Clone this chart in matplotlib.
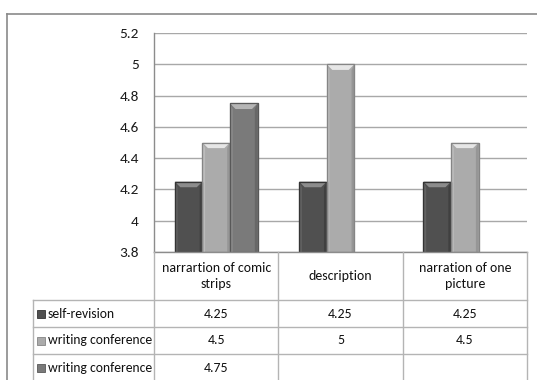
import numpy as np
import matplotlib
matplotlib.use("Agg")
import matplotlib.pyplot as plt
from matplotlib.patches import Polygon, Rectangle
from matplotlib.lines import Line2D
from matplotlib import font_manager

installed = {f.name for f in font_manager.fontManager.ttflist}
preferred = ['Carlito', 'Liberation Sans Narrow', 'Roboto Condensed', 'DejaVu Sans']
plt.rcParams['font.family'] = [f for f in preferred if f in installed] or ['DejaVu Sans']

categories = ["narrartion of comic\nstrips", "description", "narration of one\npicture"]
series_names = ["self-revision", "writing conference", "writing conference"]
self_revision = [4.25, 4.25, 4.25]
writing_conference_1 = [4.5, 5, 4.5]
writing_conference_2 = [4.75, np.nan, np.nan]
y_ticks = [3.8, 4, 4.2, 4.4, 4.6, 4.8, 5, 5.2]

series = [self_revision, writing_conference_1, writing_conference_2]
colors = ["#505050", "#ababab", "#7a7a7a"]
light = ["#8c8c8c", "#e6e6e6", "#b5b5b5"]
dark = ["#343434", "#858585", "#585858"]

W, H = 537, 380
fig = plt.figure(figsize=(W / 100, H / 100), dpi=100)

def fx(px):
    return px / W

def fy(py):
    return 1 - py / H

ax_l, ax_r, ax_t, ax_b = 154, 527, 33, 252
ax = fig.add_axes([fx(ax_l), fy(ax_b), fx(ax_r - ax_l), (ax_b - ax_t) / H])

n_cat = len(categories)
ax.set_xlim(0, n_cat)
ax.set_ylim(y_ticks[0], y_ticks[-1])
ax.set_yticks(y_ticks)
ax.set_yticklabels([f"{t:g}" for t in y_ticks], fontsize=11, color="#1a1a1a")
ax.tick_params(axis="y", length=0, pad=11)
ax.set_xticks([])
for s in ["top", "right", "bottom"]:
    ax.spines[s].set_visible(False)
ax.spines["left"].set_color("#8c8c8c")
ax.spines["left"].set_linewidth(1.0)
ax.grid(axis="y", color="#a8a8a8", linewidth=1.0)
ax.set_axisbelow(True)

bar_w = 0.222
bev_y = 0.036
bev_x = 0.045
side_x = 0.022
for j, vals in enumerate(series):
    for i, v in enumerate(vals):
        if np.isnan(v):
            continue
        x0 = i + 0.5 + (j - 1) * bar_w - bar_w / 2
        x1 = x0 + bar_w
        base = y_ticks[0]
        ax.add_patch(Rectangle((x0, base), bar_w, v - base, facecolor=colors[j],
                               edgecolor=dark[j], linewidth=0.8, zorder=3))
        # side facets
        ax.add_patch(Polygon([(x0, base), (x0 + side_x, base), (x0 + side_x, v - bev_y), (x0, v)],
                             closed=True, facecolor=light[j], alpha=0.3, linewidth=0, zorder=4))
        ax.add_patch(Polygon([(x1, base), (x1 - side_x, base), (x1 - side_x, v - bev_y), (x1, v)],
                             closed=True, facecolor=dark[j], alpha=0.55, linewidth=0, zorder=4))
        # top bevel
        ax.add_patch(Polygon([(x0, v), (x1, v), (x1 - bev_x, v - bev_y), (x0 + bev_x, v - bev_y)],
                             closed=True, facecolor=light[j], linewidth=0, zorder=4))
        ax.add_patch(Rectangle((x0, base), bar_w, v - base, facecolor="none",
                               edgecolor=dark[j], linewidth=0.9, zorder=5))

# bottom axis line
fig.add_artist(Line2D([fx(ax_l), fx(ax_r)], [fy(ax_b), fy(ax_b)], color="#8c8c8c", lw=1.0))

# outer frame
fig.add_artist(Line2D([fx(7.5), fx(7.5)], [fy(14), fy(H + 5)], color="#8a8a8a", lw=1.2))
fig.add_artist(Line2D([fx(7.5), fx(W + 5)], [fy(14), fy(14)], color="#8a8a8a", lw=1.2))

# data table
grid_c = "#b4b4b4"
col_edges = np.linspace(ax_l, ax_r, n_cat + 1)
row_edges = [300, 327, 354, 381]
leg_l = 33
for xe in col_edges:
    fig.add_artist(Line2D([fx(xe), fx(xe)], [fy(ax_b), fy(H)], color=grid_c, lw=1.0))
fig.add_artist(Line2D([fx(leg_l), fx(leg_l)], [fy(row_edges[0]), fy(H)], color=grid_c, lw=1.0))
for ye in row_edges[:-1]:
    fig.add_artist(Line2D([fx(leg_l), fx(ax_r)], [fy(ye), fy(ye)], color=grid_c, lw=1.0))

txt_c = "#111111"
for i, cat in enumerate(categories):
    cx = (col_edges[i] + col_edges[i + 1]) / 2
    fig.text(fx(cx), fy((ax_b + row_edges[0]) / 2), cat, ha="center", va="center",
             fontsize=10, color=txt_c, linespacing=1.35)

for j, (name, vals) in enumerate(zip(series_names, series)):
    cy = (row_edges[j] + row_edges[j + 1]) / 2
    fig.add_artist(Rectangle((fx(37), fy(cy + 4)), fx(8), 8 / H, facecolor=colors[j],
                             edgecolor=dark[j], linewidth=0.6, transform=fig.transFigure))
    fig.text(fx(48), fy(cy), name, ha="left", va="center", fontsize=9.8, color=txt_c)
    for i, v in enumerate(vals):
        if np.isnan(v):
            continue
        cx = (col_edges[i] + col_edges[i + 1]) / 2
        fig.text(fx(cx), fy(cy), f"{v:g}", ha="center", va="center", fontsize=10, color=txt_c)

fig.savefig("out.png", dpi=100)
